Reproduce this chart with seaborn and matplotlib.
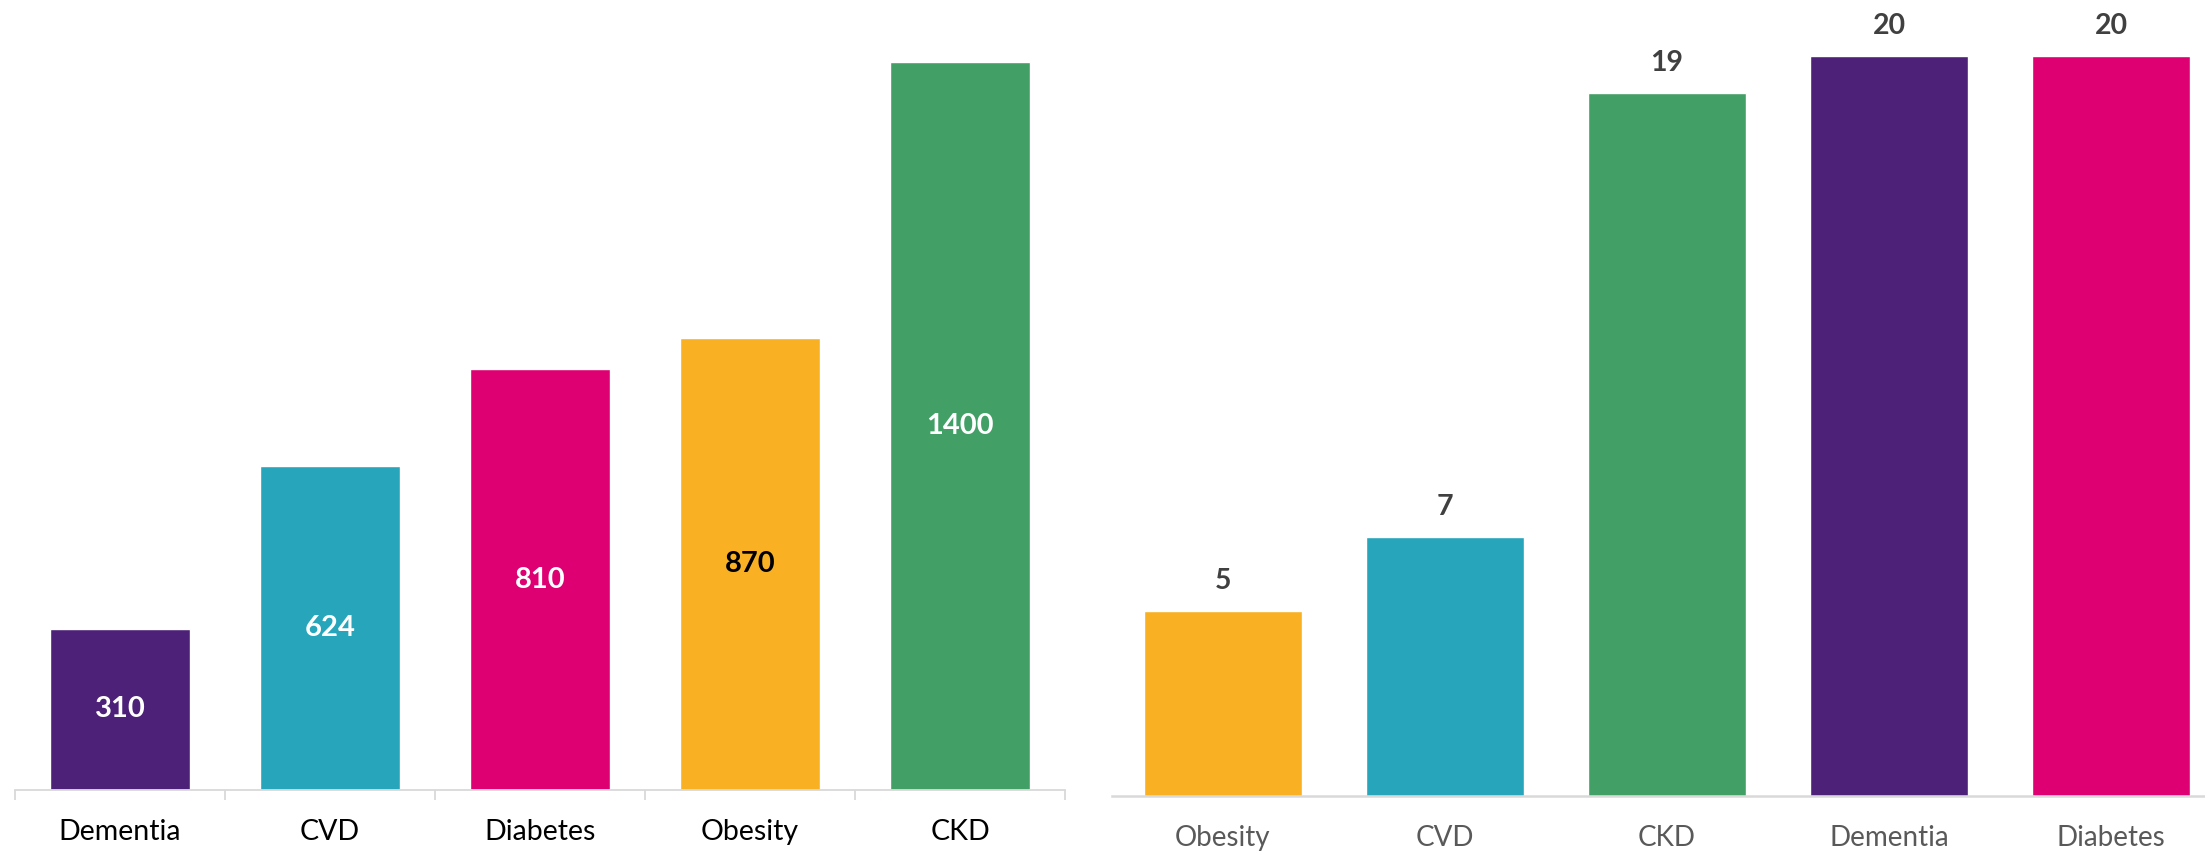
import matplotlib
matplotlib.use("Agg")
import matplotlib.pyplot as plt
import seaborn as sns
import pandas as pd
from matplotlib.ticker import FixedLocator

# Left panel: counts per condition
left_categories = ["Dementia", "CVD", "Diabetes", "Obesity", "CKD"]
left_values = [310, 624, 810, 870, 1400]
left_label_colors = ["white", "white", "white", "black", "white"]

# Right panel: values per condition
right_categories = ["Obesity", "CVD", "CKD", "Dementia", "Diabetes"]
right_values = [5, 7, 19, 20, 20]

palette = {
    "Dementia": "#4d2178",
    "CVD": "#26a5bb",
    "Diabetes": "#de0073",
    "Obesity": "#f9b123",
    "CKD": "#429f66",
}

sns.set_style("white")
plt.rcParams["font.family"] = ["Lato", "DejaVu Sans"]

W, H = 2205, 851
fig = plt.figure(figsize=(W / 100, H / 100), dpi=100)

def px_axes(x0, x1, y_top, y_base):
    return fig.add_axes([x0 / W, 1 - y_base / H, (x1 - x0) / W, (y_base - y_top) / H])

axis_gray = "#d9d9d9"

# ---- left panel ----
axL = px_axes(15, 1065, 0, 790)
dfL = pd.DataFrame({"cond": left_categories, "val": left_values})
sns.barplot(data=dfL, x="cond", y="val", hue="cond", palette=palette,
            order=left_categories, hue_order=left_categories,
            width=0.667, saturation=1, legend=False, ax=axL)
axL.set_xlim(-0.5, 4.5)
axL.set_ylim(0, 1520)
axL.set_xlabel("")
axL.set_ylabel("")
axL.set_yticks([])
for s in ["top", "right", "left"]:
    axL.spines[s].set_visible(False)
axL.spines["bottom"].set_color(axis_gray)
axL.spines["bottom"].set_linewidth(1.3)
axL.xaxis.set_minor_locator(FixedLocator([i - 0.5 for i in range(6)]))
axL.tick_params(axis="x", which="minor", length=7, width=1.3, color=axis_gray, direction="out", bottom=True)
axL.tick_params(axis="x", which="major", length=0, pad=21, labelsize=20.5, labelcolor="black", bottom=True)
for bar, val, col in zip(axL.patches, left_values, left_label_colors):
    axL.text(bar.get_x() + bar.get_width() / 2, val / 2, f"{val}",
             ha="center", va="center", color=col, fontsize=21, fontweight="bold")

# ---- right panel ----
axR = px_axes(1112, 2222, 0, 796)
dfR = pd.DataFrame({"cond": right_categories, "val": right_values})
sns.barplot(data=dfR, x="cond", y="val", hue="cond", palette=palette,
            order=right_categories, hue_order=right_categories,
            width=0.71, saturation=1, legend=False, ax=axR)
axR.set_xlim(-0.5, 4.5)
axR.set_ylim(0, 796 / 37)
axR.set_xlabel("")
axR.set_ylabel("")
axR.set_yticks([])
for s in ["top", "right", "left"]:
    axR.spines[s].set_visible(False)
axR.spines["bottom"].set_color(axis_gray)
axR.spines["bottom"].set_linewidth(1.8)
axR.tick_params(axis="x", which="major", length=0, pad=21, labelsize=20, labelcolor="#595959", bottom=True)
for bar, val in zip(axR.patches, right_values):
    axR.annotate(f"{val}", (bar.get_x() + bar.get_width() / 2, val),
                 xytext=(0, 30), textcoords="offset pixels",
                 ha="center", va="center", color="#404040",
                 fontsize=20.5, fontweight="bold")

fig.savefig("out.png", dpi=100, facecolor="white")
